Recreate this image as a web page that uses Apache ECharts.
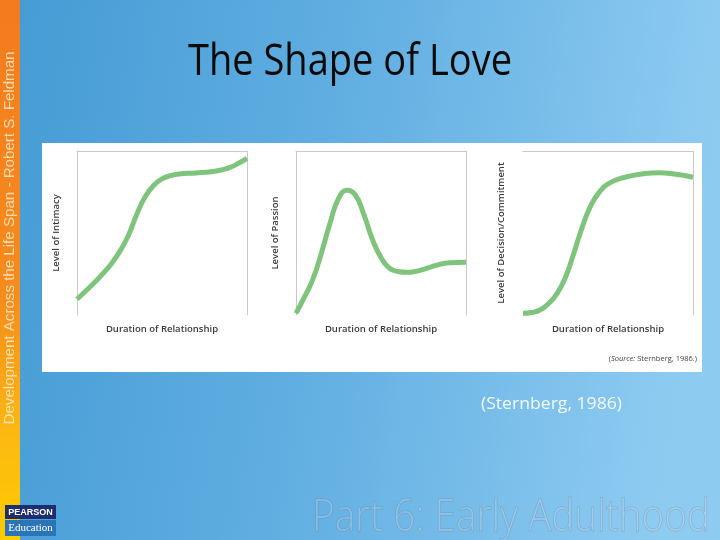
<!DOCTYPE html>
<html>
<head>
<meta charset="utf-8">
<script src="https://cdn.jsdelivr.net/npm/echarts@6/dist/echarts.min.js"></script>
<style>html,body{margin:0;padding:0;}#c{width:720px;height:540px;}</style>
</head>
<body>
<div id="c"></div>
<script>
// ---- data (percent of relationship duration vs. level) ----
const intimacyX = [0,5,10,15,20,25,30,35,40,45,50,55,60,70,80,85,90,95,100];
const intimacyY = [9.6,14.5,19.5,25,31,38.5,48,61,72,79,83,85,86,86.6,87.5,88.5,90,92.5,95.5];
const passionX = [0,5,10,15,20,25,30,35,40,45,50,55,60,65,70,75,80,85,90,100];
const passionY = [1,11,22,38,56,71,76,73,61,46,35,28.5,26.5,26,26.5,27.8,29.5,31,31.8,32.2];
const commitX = [0,5,10,15,20,25,30,35,40,45,50,60,70,80,90,100];
const commitY = [1,1.5,3,7,13,23,38,54,67,75,80,84,86,86.8,85.8,84];
const yNames = ['Level of Intimacy','Level of Passion','Level of Decision/Commitment'];
const xName = 'Duration of Relationship';
const titleText = 'The Shape of Love';
const citeText = '(Sternberg, 1986)';
const sideText = 'Development Across the Life Span - Robert S. Feldman';
const footerText = 'Part 6: Early Adulthood';

function zip(xs, ys){ return xs.map((x,i)=>[x, ys[i]]); }
const seriesData = [zip(intimacyX,intimacyY), zip(passionX,passionY), zip(commitX,commitY)];

const cv = document.createElement('canvas').getContext('2d');
function fit(text, font, w){ cv.font = font; return w / cv.measureText(text).width; }

const lefts = [77, 296, 523];
const showLeft = [true, true, false];
const yGaps = [16, 16, 17];
const frameColor = '#c9c9c9';
const nameStyle = {fontFamily:'Open Sans', fontWeight:600, fontSize:9.5, color:'#3a3a3a'};
const hidden = {axisTick:{show:false}, axisLabel:{show:false}, splitLine:{show:false}};

const grids = [], xAxes = [], yAxes = [], series = [];
lefts.forEach((l,i)=>{
  grids.push({left:l, top:151, width:170, height:164});
  xAxes.push(Object.assign({type:'value', gridIndex:i, min:0, max:100, position:'bottom',
    name:xName, nameLocation:'middle', nameGap:9, nameTextStyle:nameStyle,
    axisLine:{show:false, onZero:false}}, hidden));
  xAxes.push(Object.assign({type:'value', gridIndex:i, min:0, max:100, position:'top',
    axisLine:{show:true, onZero:false, lineStyle:{color:frameColor, width:1}}}, hidden));
  yAxes.push(Object.assign({type:'value', gridIndex:i, min:0, max:100, position:'left',
    name:yNames[i], nameLocation:'middle', nameRotate:90, nameGap:yGaps[i], nameTextStyle:nameStyle,
    axisLine:{show:showLeft[i], onZero:false, lineStyle:{color:frameColor, width:1}}}, hidden));
  yAxes.push(Object.assign({type:'value', gridIndex:i, min:0, max:100, position:'right',
    axisLine:{show:true, onZero:false, lineStyle:{color:frameColor, width:1}}}, hidden));
  series.push({type:'line', xAxisIndex:2*i, yAxisIndex:2*i, data:seriesData[i], smooth:0.5,
    showSymbol:false, symbol:'none', clip:false, lineStyle:{color:'#7fc47c', width:5}, z:5});
});

const titleFont = '44px "Open Sans"';
const citeFont = '16px "Open Sans"';
const sideFont = '15px "Liberation Sans"';
const footFont = '300 44px "Open Sans"';

const graphic = [
  {type:'rect', z:-10, shape:{x:0,y:0,width:720,height:540}, silent:true,
   style:{fill:new echarts.graphic.LinearGradient(0,0,1,0.2,[{offset:0,color:'#449bd4'},{offset:0.5,color:'#62afe2'},{offset:1,color:'#8ecbf1'}])}},
  {type:'rect', z:-9, shape:{x:0,y:0,width:20,height:540}, silent:true,
   style:{fill:new echarts.graphic.LinearGradient(0,0,0,1,[{offset:0,color:'#f47b1e'},{offset:0.55,color:'#f68c1c'},{offset:0.8,color:'#fcb812'},{offset:1,color:'#ffcc00'}])}},
  {type:'text', z:-8, x:10, y:238, rotation:Math.PI/2, scaleX:fit(sideText, sideFont, 373), silent:true,
   style:{text:sideText, font:sideFont, fill:'rgba(255,240,215,0.8)', align:'center', verticalAlign:'middle'}},
  {type:'rect', z:-8, shape:{x:42,y:143,width:660,height:229}, silent:true, style:{fill:'#ffffff'}},
  {type:'text', z:-8, x:188, y:62, scaleX:fit(titleText, titleFont, 324), silent:true,
   style:{text:titleText, font:titleFont, fill:'#0a0a0a', align:'left', verticalAlign:'middle'}},
  {type:'text', z:-8, x:481, y:404, scaleX:fit(citeText, citeFont, 141), silent:true,
   style:{text:citeText, font:citeFont, fill:'#f4f9ff', align:'left', verticalAlign:'middle'}},
  {type:'text', z:-8, x:697, y:359, silent:true,
   style:{text:'({i|Source:} Sternberg, 1986.)', font:'7.5px "Open Sans"', fill:'#444', align:'right', verticalAlign:'middle',
     rich:{i:{fontStyle:'italic', fontSize:7.5, fontFamily:'Open Sans', fill:'#444'}}}},
  {type:'text', z:-8, x:312, y:518, scaleX:fit(footerText, footFont, 398), silent:true,
   style:{text:footerText, font:footFont, fill:'rgba(225,238,250,0.28)', stroke:'rgba(90,110,130,0.3)', lineWidth:1, align:'left', verticalAlign:'middle'}},
  {type:'rect', z:-8, shape:{x:5,y:505,width:51,height:14}, silent:true, style:{fill:'#1d2d6e'}},
  {type:'rect', z:-8, shape:{x:5,y:520,width:51,height:16}, silent:true, style:{fill:'#2b74b8'}},
  {type:'text', z:-7, x:30.5, y:512.5, silent:true, style:{text:'PEARSON', font:'bold 9px "Liberation Sans"', fill:'#ffffff', align:'center', verticalAlign:'middle'}},
  {type:'text', z:-7, x:30.5, y:528, silent:true, style:{text:'Education', font:'11px "Liberation Serif"', fill:'#ffffff', align:'center', verticalAlign:'middle'}}
];

const chart = echarts.init(document.getElementById('c'), null, {renderer:'canvas'});
chart.setOption({animation:false, grid:grids, xAxis:xAxes, yAxis:yAxes, series:series, graphic:graphic});
</script>
</body>
</html>
